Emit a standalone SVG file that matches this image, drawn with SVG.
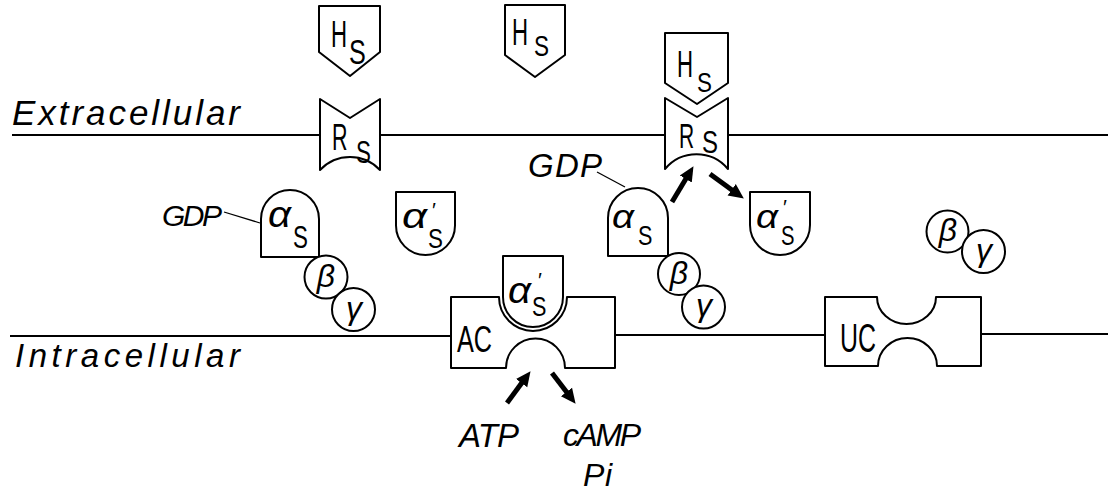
<svg xmlns="http://www.w3.org/2000/svg" width="1108" height="492" viewBox="0 0 1108 492">
<style>
text{font-family:"Liberation Sans","DejaVu Sans",sans-serif;fill:#000}
.it{font-style:italic}
.pr{font-size:21px}
.sh{fill:#fff;stroke:#000;stroke-width:2;stroke-linejoin:round}
.mem{stroke:#000;stroke-width:2.2;fill:none}
.lead{stroke:#000;stroke-width:1.3;fill:none}
.arr{stroke:#000;stroke-width:5;fill:none;marker-end:url(#ah)}
.gc{text-anchor:middle}
</style>
<defs>
<marker id="ah" markerUnits="userSpaceOnUse" markerWidth="16" markerHeight="16" refX="2" refY="8" orient="auto">
<path d="M0,1 L15,8 L0,15 Z" fill="#000"/>
</marker>
</defs>
<rect width="1108" height="492" fill="#fff"/>

<g id="membrane">
<path class="mem" d="M12,135 H320 M380,135 H665 M728,135 H1108"/>
<path class="mem" d="M10,336 H451 M615,335 H825 M981,334 H1108"/>
<text class="it" x="12" y="125" font-size="35" textLength="228">Extracellular</text>
<text class="it" x="15" y="367" font-size="33" textLength="225">Intracellular</text>
</g>

<g id="Hs1">
<path class="sh" d="M319,6 H380 V52 L350,76 L319,52 Z"/>
<text transform="translate(331,47) scale(0.6,1)" font-size="37">H</text>
<text transform="translate(349,64) scale(0.7,1)" font-size="36">S</text>
</g>
<g id="Rs1">
<path class="sh" d="M320,99 L350,118 L380,99 V170 A41,41 0 0 0 320,170 Z"/>
<text transform="translate(332,150) scale(0.58,1)" font-size="37">R</text>
<text transform="translate(356,163) scale(0.7,1)" font-size="32">S</text>
</g>
<g id="Hs2">
<path class="sh" d="M505,5 H565 V55 L535,77 L505,55 Z"/>
<text transform="translate(512,45) scale(0.6,1)" font-size="37">H</text>
<text transform="translate(534,56) scale(0.75,1)" font-size="30">S</text>
</g>
<g id="Hs3">
<path class="sh" d="M665,33 H728 V83 L697,104 L665,83 Z"/>
<text transform="translate(677,77) scale(0.6,1)" font-size="37">H</text>
<text transform="translate(697,92) scale(0.8,1)" font-size="28">S</text>
</g>
<g id="Rs2">
<path class="sh" d="M665,98 L697,117 L728,98 V169 A41,41 0 0 0 665,169 Z"/>
<text transform="translate(679,148) scale(0.6,1)" font-size="35">R</text>
<text transform="translate(702,153) scale(0.75,1)" font-size="32">S</text>
</g>

<g id="alphaS1">
<path class="sh" d="M261,257 V219 A29,29 0 0 1 319,219 V257 Z"/>
<text class="it" x="268" y="227" font-size="37" textLength="23" lengthAdjust="spacingAndGlyphs">α</text>
<text transform="translate(293,248) scale(0.7,1)" font-size="32">S</text>
</g>
<g id="GDP1"><text class="it" x="162" y="226" font-size="30" textLength="60">GDP</text></g>
<g id="beta1"><circle class="sh" cx="326" cy="277" r="21.5"/><text class="it gc" x="326" y="287" font-size="32">β</text></g>
<g id="gamma1"><circle class="sh" cx="353.5" cy="309.5" r="21.5"/><text class="it gc" x="354" y="319" font-size="32">γ</text></g>

<g id="alphaP1">
<path class="sh" d="M396,192 H455 V225.5 A29.5,29.5 0 0 1 396,225.5 Z"/>
<text class="it" x="402" y="228" font-size="35" textLength="25" lengthAdjust="spacingAndGlyphs">α</text>
<text class="pr" x="432" y="217">′</text>
<text transform="translate(428,248) scale(0.8,1)" font-size="28">S</text>
</g>

<g id="GDP2"><text class="it" x="528" y="177" font-size="33" textLength="74">GDP</text></g>
<g id="alphaS2">
<path class="sh" d="M608,256 V218 A30,30 0 0 1 668,218 V256 Z"/>
<text class="it" x="612" y="228" font-size="34" textLength="22" lengthAdjust="spacingAndGlyphs">α</text>
<text transform="translate(638,245) scale(0.8,1)" font-size="27">S</text>
</g>
<g id="beta2"><circle class="sh" cx="679" cy="274" r="21"/><text class="it gc" x="679" y="284" font-size="32">β</text></g>
<g id="gamma2"><circle class="sh" cx="703.5" cy="307" r="21.5"/><text class="it gc" x="704" y="316" font-size="32">γ</text></g>
<g id="alphaP2">
<path class="sh" d="M750,192 H810 V225 A30,30 0 0 1 750,225 Z"/>
<text class="it" x="756" y="228" font-size="33" textLength="22" lengthAdjust="spacingAndGlyphs">α</text>
<text class="pr" x="783" y="214">′</text>
<text transform="translate(781,245) scale(0.75,1)" font-size="27">S</text>
</g>
<g id="beta3"><circle class="sh" cx="947.5" cy="231.5" r="21"/><text class="it gc" x="948" y="241" font-size="32">β</text></g>
<g id="gamma3"><circle class="sh" cx="983.5" cy="251.5" r="21.5"/><text class="it gc" x="984" y="261" font-size="32">γ</text></g>

<g id="AC">
<path class="sh" d="M451,297 H499 A34,34 0 0 0 567,297 H615 V368 H565 A29.5,29.5 0 0 0 506,368 H451 Z"/>
<text x="457" y="352" font-size="36" textLength="35" lengthAdjust="spacingAndGlyphs">AC</text>
</g>
<g id="alphaP3">
<path class="sh" d="M503,256 H563 V297 A30,30 0 0 1 503,297 Z"/>
<text class="it" x="508" y="303" font-size="37" textLength="23" lengthAdjust="spacingAndGlyphs">α</text>
<text class="pr" x="538" y="287">′</text>
<text transform="translate(532,316) scale(0.8,1)" font-size="27">S</text>
</g>
<g id="UC">
<path class="sh" d="M825,297 H877 A29.5,27 0 0 0 936,297 H981 V366 H937 A29.5,28 0 0 0 878,366 H825 Z"/>
<text x="840" y="352" font-size="40" textLength="36" lengthAdjust="spacingAndGlyphs">UC</text>
</g>

<g id="ATP"><text class="it" x="459" y="447" font-size="33" textLength="60">ATP</text></g>
<g id="cAMP"><text class="it" x="563" y="446" font-size="32" textLength="78">cAMP</text></g>
<g id="Pi"><text class="it" x="583" y="486" font-size="32" textLength="29">Pi</text></g>

<g id="connectors">
<path class="lead" d="M224,212 L260,223"/>
<path class="lead" d="M597,172 L625,187"/>
<path class="arr" d="M672,202 L686.8,177.3"/>
<path class="arr" d="M710,174 L733.3,190.9"/>
<path class="arr" d="M507,403 L522.8,381.6"/>
<path class="arr" d="M552,373 L567.7,393.5"/>
</g>
</svg>
